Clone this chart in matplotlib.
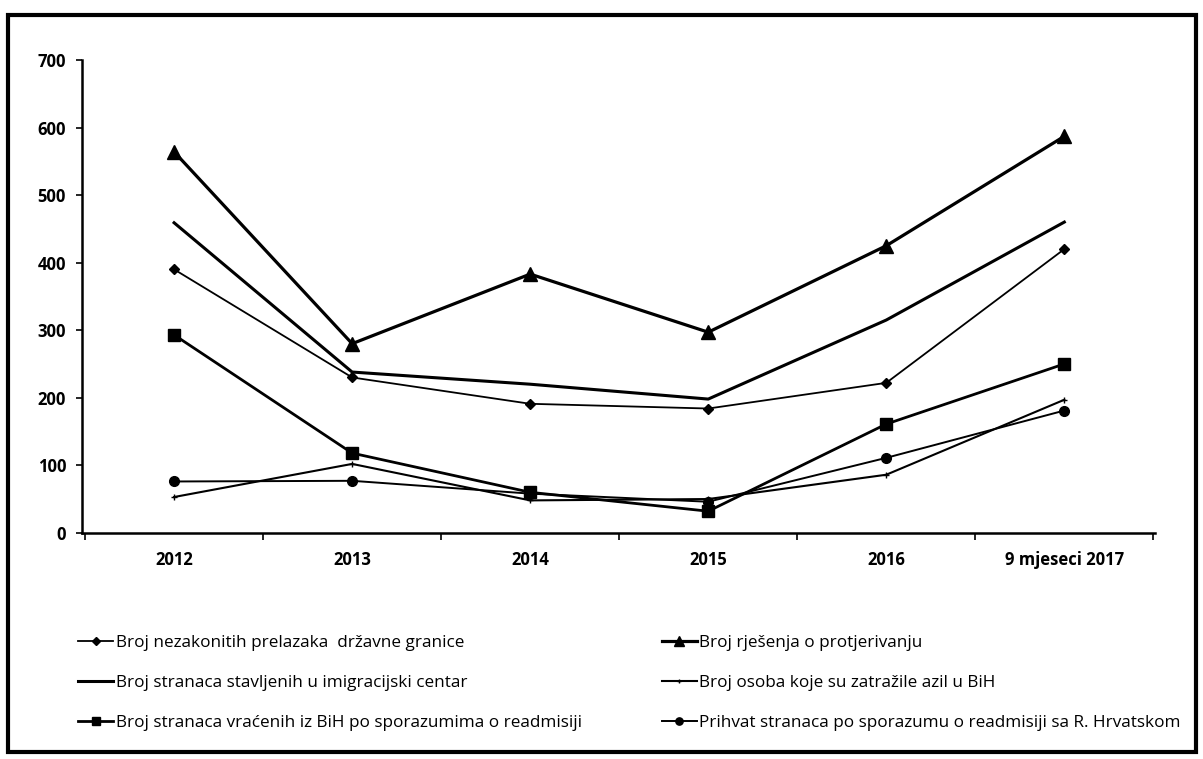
import matplotlib.pyplot as plt
from matplotlib.patches import Rectangle

plt.rcParams["font.family"] = ["Open Sans", "DejaVu Sans"]

categories = ["2012", "2013", "2014", "2015", "2016", "9 mjeseci 2017"]

nezakoniti = [390, 230, 191, 184, 222, 420]
protjerivanje = [564, 280, 383, 297, 425, 587]
imigracijski = [459, 238, 220, 198, 315, 460]
azil = [53, 102, 48, 50, 86, 197]
vraceni = [293, 118, 60, 32, 161, 250]
prihvat = [76, 77, 58, 46, 111, 181]

labels = {
    "nezakoniti": "Broj nezakonitih prelazaka  državne granice",
    "protjerivanje": "Broj rješenja o protjerivanju",
    "imigracijski": "Broj stranaca stavljenih u imigracijski centar",
    "azil": "Broj osoba koje su zatražile azil u BiH",
    "vraceni": "Broj stranaca vraćenih iz BiH po sporazumima o readmisiji",
    "prihvat": "Prihvat stranaca po sporazumu o readmisiji sa R. Hrvatskom",
}

fig = plt.figure(figsize=(12.03, 7.59), dpi=100)
ax = fig.add_axes([0.0682, 0.298, 0.892, 0.623])
x = range(len(categories))

styles = {
    "nezakoniti": dict(lw=1.3, marker="D", ms=5),
    "protjerivanje": dict(lw=2.3, marker="^", ms=10),
    "imigracijski": dict(lw=2.2, marker=None),
    "azil": dict(lw=1.5, marker="+", ms=4),
    "vraceni": dict(lw=2.0, marker="s", ms=8),
    "prihvat": dict(lw=1.4, marker="o", ms=7),
}
series = {
    "nezakoniti": nezakoniti,
    "protjerivanje": protjerivanje,
    "imigracijski": imigracijski,
    "azil": azil,
    "vraceni": vraceni,
    "prihvat": prihvat,
}
handles = {}
for key, vals in series.items():
    (ln,) = ax.plot(x, vals, color="black", label=labels[key], **styles[key])
    handles[key] = ln

ax.set_xlim(-0.517, 5.51)
ax.set_ylim(0, 700)
ax.set_yticks(range(0, 701, 100))
ax.set_xticks(list(x))
ax.set_xticklabels(categories)
ax.set_xticks([i + 0.5 for i in range(-1, 6)], minor=True)
ax.tick_params(axis="x", which="major", length=0, pad=13)
ax.tick_params(axis="x", which="minor", length=5, width=1.2, direction="out")
ax.tick_params(axis="y", length=4.5, width=1.2, direction="out", pad=7)
for lab in ax.get_xticklabels() + ax.get_yticklabels():
    lab.set_fontweight("bold")
    lab.set_fontsize(12)
for side in ["top", "right"]:
    ax.spines[side].set_visible(False)
for side in ["left", "bottom"]:
    ax.spines[side].set_linewidth(1.8)

leg_kw = dict(frameon=False, fontsize=12.3, handlelength=2.05, handletextpad=0.15,
              labelspacing=1.41, borderaxespad=0, borderpad=0, markerscale=0.75)
left_keys = ["nezakoniti", "imigracijski", "vraceni"]
right_keys = ["protjerivanje", "azil", "prihvat"]
fig.legend([handles[k] for k in left_keys], [labels[k] for k in left_keys],
           loc="upper left", bbox_to_anchor=(0.065, 0.163), **leg_kw)
fig.legend([handles[k] for k in right_keys], [labels[k] for k in right_keys],
           loc="upper left", bbox_to_anchor=(0.550, 0.163), **leg_kw)

fig.patches.append(Rectangle((0.007, 0.009), 0.987, 0.971, transform=fig.transFigure,
                             fill=False, edgecolor="black", linewidth=3))

fig.savefig("out.png", dpi=100)
